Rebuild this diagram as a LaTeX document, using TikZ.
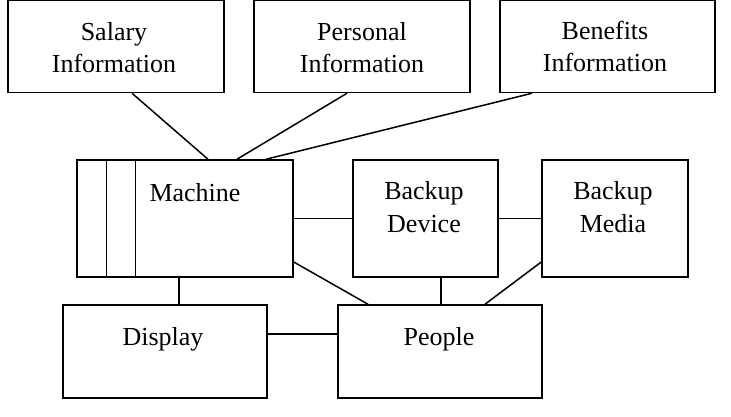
\documentclass[tikz,border=0pt]{standalone}
\usepackage{fontspec}
\setmainfont{Liberation Serif}
\begin{document}
\begin{tikzpicture}[x=1pt,y=-1pt,
  box/.style={draw,line width=1.5pt,inner sep=0pt,rectangle},
  lbl/.style={anchor=base,inner sep=0pt,font=\fontsize{26}{32}\selectfont},
  conn/.style={line width=1.5pt}]
\useasboundingbox (0,0) rectangle (731,417);
% boxes
\node[box,minimum width=216pt,minimum height=92pt] (sal) at (116,46.5) {};
\node[box,minimum width=216pt,minimum height=92pt] (per) at (362,46.5) {};
\node[box,minimum width=215pt,minimum height=92pt] (ben) at (607.5,46.5) {};
\node[box,minimum width=216pt,minimum height=117pt] (mach) at (185,218.5) {};
\node[box,minimum width=145pt,minimum height=117pt] (bd) at (425.5,218.5) {};
\node[box,minimum width=146pt,minimum height=117pt] (bm) at (615,218.5) {};
\node[box,minimum width=204pt,minimum height=93pt] (disp) at (165,351.5) {};
\node[box,minimum width=204pt,minimum height=93pt] (peo) at (440,351.5) {};
% machine inner bars
\draw[conn] ([xshift=30pt]mach.north west) -- ([xshift=30pt]mach.south west);
\draw[conn] ([xshift=59pt]mach.north west) -- ([xshift=59pt]mach.south west);
% labels
\node[lbl] (salA) at (114,41) {Salary};
\node[lbl] (salB) at (114,73) {Information};
\node[lbl] (perA) at (362,41) {Personal};
\node[lbl] (perB) at (362,73) {Information};
\node[lbl] (benA) at (605,40) {Benefits};
\node[lbl] (benB) at (605,72) {Information};
\node[lbl] (machL) at (195,201) {Machine};
\node[lbl] (bdA) at (424,200) {Backup};
\node[lbl] (bdB) at (424,232) {Device};
\node[lbl] (bmA) at (613,200) {Backup};
\node[lbl] (bmB) at (613,232) {Media};
\node[lbl] (dispL) at (163,345) {Display};
\node[lbl] (peoL) at (439,345) {People};
% connectors
\draw[conn] ([xshift=16pt]sal.south) -- ([xshift=23pt]mach.north);
\draw[conn] ([xshift=-15pt]per.south) -- ([xshift=52pt]mach.north);
\draw[conn] ([xshift=-75.5pt]ben.south) -- ([xshift=81pt]mach.north);
\draw[conn] (mach.east) -- (bd.west);
\draw[conn] (bd.east) -- (bm.west);
\draw[conn] ([yshift=-43.5pt]mach.east) -- ([xshift=-72pt]peo.north);
\draw[conn] ([xshift=15.5pt]bd.south) -- ([xshift=15.5pt]bd.south |- peo.north);
\draw[conn] ([yshift=-43.5pt]bm.west) -- ([xshift=45pt]peo.north);
\draw[conn] ([xshift=-6pt]mach.south) -- ([xshift=-6pt]mach.south |- disp.north);
\draw[conn] ([yshift=17.5pt]disp.east) -- ([yshift=17.5pt]disp.east -| peo.west);
\end{tikzpicture}
\end{document}
